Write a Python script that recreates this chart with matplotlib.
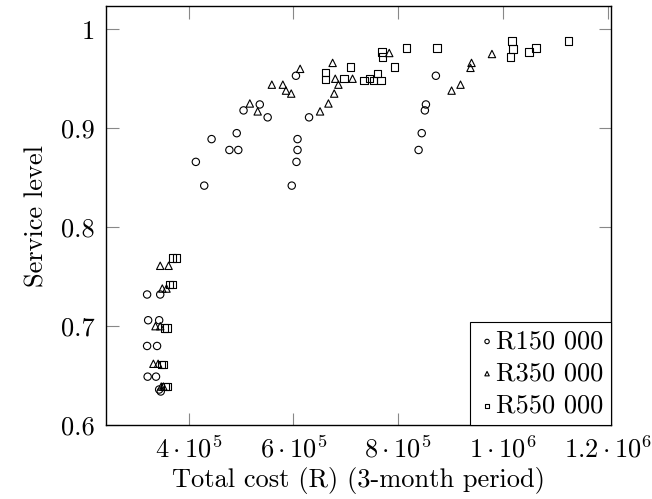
import matplotlib
matplotlib.use("Agg")
import matplotlib.pyplot as plt

plt.rcParams["font.family"] = "serif"
plt.rcParams["font.serif"] = ["cmr10", "DejaVu Serif"]
plt.rcParams["mathtext.fontset"] = "cm"
plt.rcParams["axes.formatter.use_mathtext"] = True

# total cost (R) and service level per budget
cost_150 = [321e3, 346e3, 323e3, 344e3, 321e3, 340e3, 322e3, 338e3, 344e3, 347e3,
            414e3, 430e3, 444e3, 478e3, 495e3, 492e3, 505e3, 536e3, 551e3, 605e3,
            597e3, 606e3, 608e3, 608e3, 630e3, 872e3, 853e3, 851e3, 845e3, 839e3]
level_150 = [0.732, 0.732, 0.706, 0.706, 0.680, 0.680, 0.649, 0.649, 0.636, 0.634,
             0.866, 0.842, 0.889, 0.878, 0.878, 0.895, 0.918, 0.924, 0.911, 0.953,
             0.842, 0.866, 0.878, 0.889, 0.911, 0.953, 0.924, 0.918, 0.895, 0.878]

cost_350 = [346e3, 362e3, 350e3, 358e3, 337e3, 346e3, 333e3, 342e3, 348e3, 352e3,
            517e3, 532e3, 559e3, 580e3, 586e3, 596e3, 613e3, 651e3, 667e3, 678e3,
            686e3, 675e3, 680e3, 713e3, 783e3, 902e3, 919e3, 938e3, 940e3, 979e3]
level_350 = [0.761, 0.761, 0.738, 0.738, 0.700, 0.700, 0.662, 0.662, 0.639, 0.639,
             0.925, 0.917, 0.944, 0.944, 0.938, 0.935, 0.960, 0.917, 0.925, 0.935,
             0.944, 0.966, 0.950, 0.950, 0.976, 0.938, 0.944, 0.961, 0.966, 0.975]

cost_550 = [369e3, 377e3, 364e3, 370e3, 354e3, 359e3, 348e3, 352e3, 355e3, 360e3,
            769e3, 770e3, 816e3, 874e3, 709e3, 793e3, 662e3, 662e3, 697e3, 735e3,
            745e3, 753e3, 761e3, 767e3, 1017e3, 1019e3, 1015e3, 1050e3, 1063e3, 1125e3]
level_550 = [0.769, 0.769, 0.742, 0.742, 0.698, 0.698, 0.661, 0.661, 0.639, 0.639,
             0.977, 0.972, 0.981, 0.981, 0.962, 0.962, 0.956, 0.949, 0.950, 0.948,
             0.950, 0.948, 0.955, 0.948, 0.988, 0.980, 0.972, 0.977, 0.981, 0.988]

x_ticks = [4e5, 6e5, 8e5, 1e6, 1.2e6]
x_tick_labels = [r"$4\cdot10^{5}$", r"$6\cdot10^{5}$", r"$8\cdot10^{5}$",
                 r"$1\cdot10^{6}$", r"$1.2\cdot10^{6}$"]
y_ticks = [0.6, 0.7, 0.8, 0.9, 1.0]
y_tick_labels = ["0.6", "0.7", "0.8", "0.9", "1"]

fs = 19

fig = plt.figure(figsize=(6.52, 4.99), dpi=100)
ax = fig.add_axes([0.1626, 0.148, 0.7744, 0.840])

mk = dict(facecolor="none", edgecolor="black", linewidths=0.8, s=28)
ax.scatter(cost_150, level_150, marker="o", label="R150 000", **mk)
ax.scatter(cost_350, level_350, marker="^", label="R350 000", **mk)
ax.scatter(cost_550, level_550, marker="s", label="R550 000", **mk)

ax.set_xlim(2.426e5, 1.206e6)
ax.set_ylim(0.6, 1.0235)

ax.set_xticks(x_ticks)
ax.set_xticklabels(x_tick_labels)
ax.set_yticks(y_ticks)
ax.set_yticklabels(y_tick_labels)

ax.tick_params(direction="in", length=9, width=0.8, color="#888888",
               top=True, right=True, labelsize=fs, pad=8)
for s in ax.spines.values():
    s.set_linewidth(1.0)

ax.set_xlabel("Total cost (R) (3-month period)", fontsize=fs, labelpad=3)
ax.set_ylabel("Service level", fontsize=fs, labelpad=9)

leg = ax.legend(loc="lower right", borderaxespad=0, fancybox=False,
                edgecolor="black", framealpha=1, fontsize=fs, markerscale=0.6,
                handletextpad=0.0, handlelength=0.7, borderpad=0.28,
                labelspacing=0.32)
leg.get_frame().set_linewidth(0.8)

fig.savefig("out.png", dpi=100)
